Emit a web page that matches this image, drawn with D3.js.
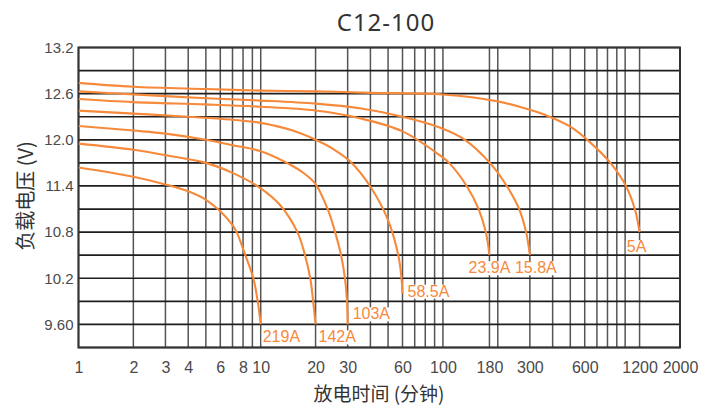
<!DOCTYPE html>
<html>
<head>
<meta charset="utf-8">
<script src="https://cdn.jsdelivr.net/npm/d3@7"></script>
<style>
  html, body { margin: 0; padding: 0; background: #fff; }
  svg { display: block; }
</style>
</head>
<body>
<svg id="chart" width="702" height="408"></svg>
<script>
// ---------- data ----------
const chartTitle = "C12-100";
const xTitle = "放电时间 (分钟)";
const yTitle = "负载电压 (V)";

const seriesNames = ["219A", "142A", "103A", "58.5A", "23.9A", "15.8A", "5A"];

const t219 = [1, 2, 3, 4, 5, 6, 7, 7.38, 8.23, 9.11, 9.63, 10];
const v219 = [11.64, 11.52, 11.42, 11.33, 11.22, 11.07, 10.89, 10.8, 10.5, 10.2, 9.9, 9.6];

const t142 = [1, 2, 3, 5, 7, 10, 12.8, 15.9, 17.5, 18.7, 19.4, 20];
const v142 = [11.95, 11.87, 11.8, 11.7, 11.57, 11.37, 11.15, 10.8, 10.5, 10.2, 9.9, 9.6];

const t103 = [1, 2, 3, 5, 7, 10, 15.2, 17.5, 20, 23.4, 25.6, 27.6, 29.0, 29.75, 30];
const v103 = [12.18, 12.12, 12.08, 12.0, 11.93, 11.85, 11.65, 11.555, 11.425, 11.09, 10.8, 10.5, 10.2, 9.9, 9.6];

const t58 = [1, 2, 4, 7, 10, 15, 20, 25, 30.9, 40, 49.9, 56.9, 59.25, 60];
const v58 = [12.38, 12.34, 12.3, 12.26, 12.22, 12.12, 12.0, 11.88, 11.72, 11.39, 10.96, 10.5, 10.2, 10.0];

const t23 = [1, 2, 5, 10, 20, 35, 60, 96, 108, 135, 157, 172, 180];
const v23 = [12.53, 12.49, 12.46, 12.43, 12.38, 12.28, 12.11, 11.8, 11.7, 11.4, 11.1, 10.8, 10.5];

const t15 = [1, 2, 5, 10, 20, 35, 60, 96, 132, 181, 224, 262, 286, 300];
const v15 = [12.63, 12.59, 12.54, 12.51, 12.47, 12.41, 12.3, 12.16, 12.0, 11.7, 11.4, 11.1, 10.8, 10.5];

const t5 = [1, 2, 5, 10, 20, 40, 100, 200, 300, 385, 500, 640, 830, 1010, 1130, 1200];
const v5 = [12.74, 12.69, 12.66, 12.64, 12.63, 12.61, 12.59, 12.5, 12.39, 12.3, 12.17, 11.97, 11.7, 11.4, 11.1, 10.8];

const seriesTimes = [t219, t142, t103, t58, t23, t15, t5];
const seriesVolts = [v219, v142, v103, v58, v23, v15, v5];

const xTickValues = [1, 2, 3, 4, 6, 8, 10, 20, 30, 60, 100, 180, 300, 600, 1200, 2000];
const xGridValues = [1, 2, 3, 4, 5, 6, 7, 8, 9, 10, 20, 30, 40, 50, 60, 70, 80, 90, 100,
                     180, 200, 300, 400, 500, 600, 700, 800, 900, 1000, 1200, 2000];
const yTickValues = [13.2, 12.6, 12.0, 11.4, 10.8, 10.2, 9.6];
const yTickLabels = ["13.2", "12.6", "12.0", "11.4", "10.8", "10.2", "9.60"];
const yGridValues = [13.2, 12.9, 12.6, 12.3, 12.0, 11.7, 11.4, 11.1, 10.8, 10.5, 10.2, 9.9, 9.6, 9.3];

// ---------- layout ----------
const M = { left: 78.5, right: 680, top: 47.5, bottom: 347.5 };
// label placement relative to the end point of each curve: [dx, dy, anchor]
const labelPlacement = [
  [2, 18, "start"], [3, 18, "start"], [5, -5, "start"], [5, 3, "start"],
  [0, 18, "middle"], [6, 18, "middle"], [-3, 20, "middle"]
];

const orange = "#f7893a";
const narrowFont = "'Liberation Sans Narrow', 'Liberation Sans', Arial, sans-serif";

const svg = d3.select("#chart");

const x = d3.scaleLog().domain([1, 2000]).range([M.left, M.right]);
const y = d3.scaleLinear().domain([9.3, 13.2]).range([M.bottom, M.top]);

// gridlines
const grid = svg.append("g");
grid.selectAll("line.v").data(xGridValues).enter().append("line")
  .attr("class", "v")
  .attr("x1", d => x(d)).attr("x2", d => x(d))
  .attr("y1", M.top).attr("y2", M.bottom)
  .attr("stroke", "#555").attr("stroke-width", 1.5);

grid.selectAll("line.h").data(yGridValues).enter().append("line")
  .attr("class", "h")
  .attr("x1", M.left).attr("x2", M.right)
  .attr("y1", d => y(d)).attr("y2", d => y(d))
  .attr("stroke", "#1e1e1e").attr("stroke-width", 1.7);

// border
svg.append("rect")
  .attr("x", M.left).attr("y", M.top)
  .attr("width", M.right - M.left).attr("height", M.bottom - M.top)
  .attr("fill", "none").attr("stroke", "#333").attr("stroke-width", 2);

// clip
svg.append("clipPath").attr("id", "clip").append("rect")
  .attr("x", M.left).attr("y", M.top)
  .attr("width", M.right - M.left).attr("height", M.bottom - M.top);

const line = d3.line()
  .x(d => x(d[0])).y(d => y(d[1]))
  .curve(d3.curveCatmullRom.alpha(0.5));

const curves = svg.append("g").attr("clip-path", "url(#clip)");
seriesNames.forEach((name, i) => {
  const pts = seriesTimes[i].map((t, j) => [t, seriesVolts[i][j]]);
  curves.append("path")
    .datum(pts)
    .attr("d", line)
    .attr("fill", "none")
    .attr("stroke", orange)
    .attr("stroke-width", 2.1)
    .attr("stroke-linecap", "butt");
});

// curve labels with white backgrounds
const labelsG = svg.append("g");
seriesNames.forEach((name, i) => {
  const ts = seriesTimes[i], vs = seriesVolts[i];
  const ex = x(ts[ts.length - 1]), ey = y(vs[vs.length - 1]);
  const [dx, dy, anchor] = labelPlacement[i];
  const g = labelsG.append("g");
  const txt = g.append("text")
    .attr("x", ex + dx).attr("y", ey + dy)
    .attr("text-anchor", anchor)
    .attr("font-family", narrowFont)
    .attr("font-size", 16)
    .attr("fill", orange)
    .text(name);
  const bb = txt.node().getBBox();
  g.insert("rect", "text")
    .attr("x", bb.x - 1).attr("y", bb.y + 2)
    .attr("width", bb.width + 2).attr("height", bb.height - 3)
    .attr("fill", "#fff");
});

// axes (labels only)
const xAxis = d3.axisBottom(x).tickValues(xTickValues).tickFormat(d3.format("d")).tickSize(0).tickPadding(14);
const xg = svg.append("g").attr("transform", `translate(0,${M.bottom})`).call(xAxis);
xg.select(".domain").remove();
xg.selectAll("text")
  .attr("font-family", narrowFont).attr("font-size", 16).attr("fill", "#4a4a4a");

const yAxis = d3.axisLeft(y).tickValues(yTickValues)
  .tickFormat((d, i) => yTickLabels[i]).tickSize(0).tickPadding(5);
const yg = svg.append("g").attr("transform", `translate(${M.left},0)`).call(yAxis);
yg.select(".domain").remove();
yg.selectAll("text")
  .attr("font-family", narrowFont).attr("font-size", 15).attr("fill", "#4a4a4a");

// titles
svg.append("text")
  .attr("x", 386).attr("y", 31)
  .attr("text-anchor", "middle")
  .attr("font-family", "'Noto Sans', 'Open Sans', sans-serif")
  .attr("font-size", 24).attr("letter-spacing", 1)
  .attr("fill", "#333")
  .text(chartTitle);

svg.append("text")
  .attr("x", 379).attr("y", 401)
  .attr("text-anchor", "middle")
  .attr("font-family", "'Noto Sans CJK SC', 'Noto Sans', sans-serif")
  .attr("font-size", 19)
  .attr("fill", "#333")
  .text(xTitle);

svg.append("text")
  .attr("transform", "translate(33,196) rotate(-90)")
  .attr("text-anchor", "middle")
  .attr("font-family", "'Noto Sans CJK SC', 'Noto Sans', sans-serif")
  .attr("font-size", 20)
  .attr("fill", "#333")
  .text(yTitle);
</script>
</body>
</html>
